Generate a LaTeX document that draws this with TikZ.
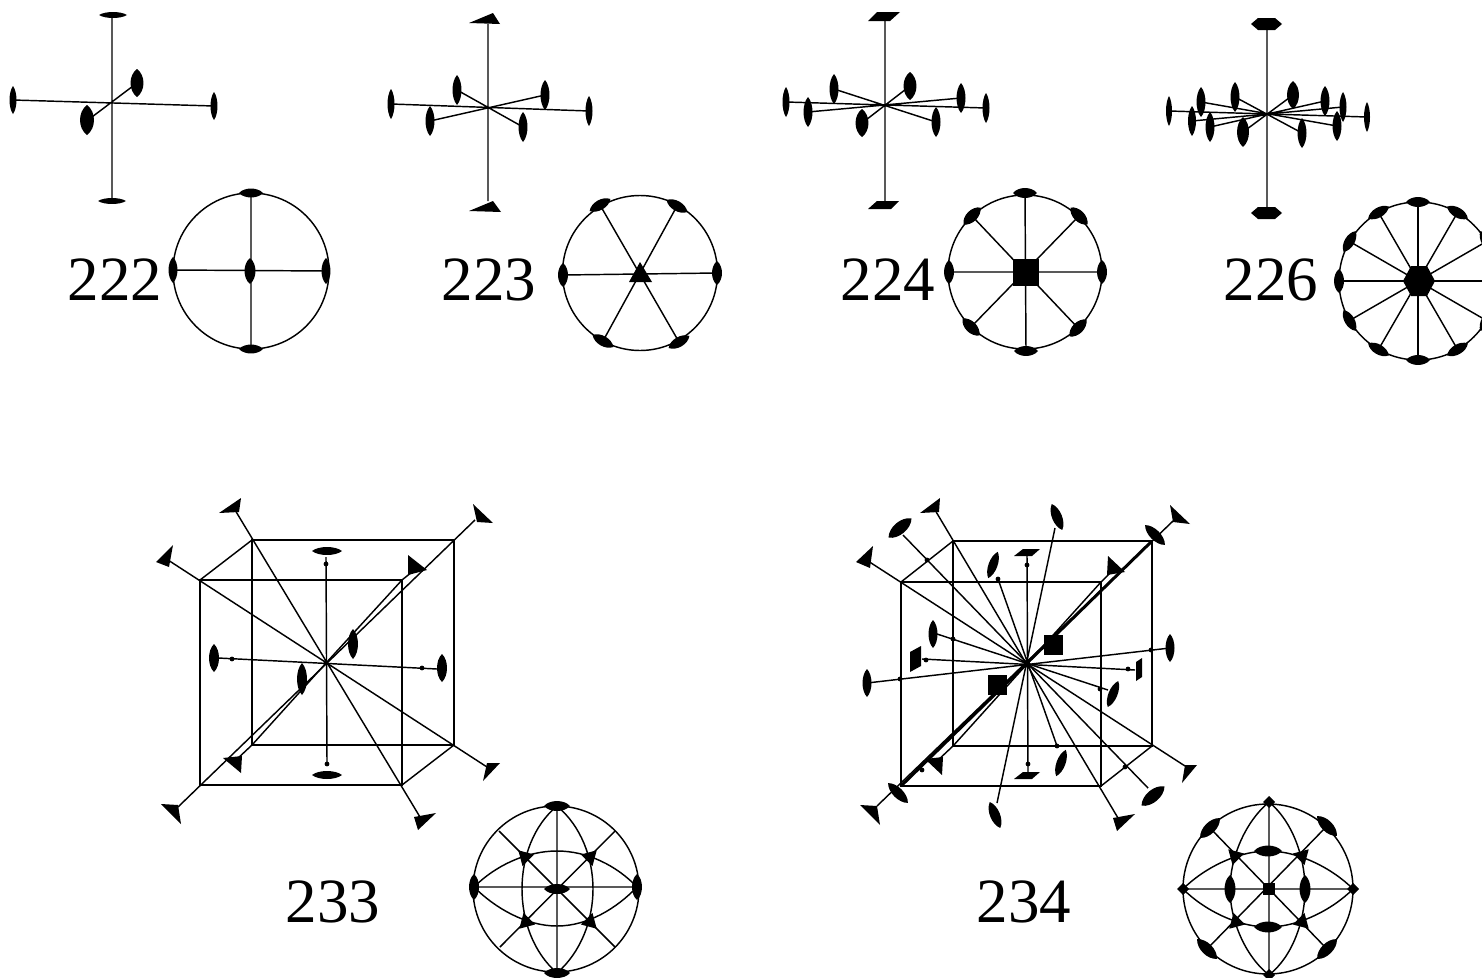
\documentclass[tikz,border=0pt]{standalone}
\usepackage{fontspec}
\setmainfont{Liberation Serif}
\newcommand{\lensA}[5]{\fill[shift={(#1,#2)},rotate={#3}] (-#4,0) .. controls (-#4*0.55,#5*1.33) and (#4*0.55,#5*1.33) .. (#4,0) .. controls (#4*0.55,-#5*1.33) and (-#4*0.55,-#5*1.33) .. cycle;}
\newcommand{\triR}[4]{\fill[shift={(#1,#2)},rotate={#3}] (#4,0) -- (-#4/2,#4*0.866) -- (-#4/2,-#4*0.866) -- cycle;}
\newcommand{\dotA}[2]{\fill (#1,#2) circle (2.4);}
\tikzset{
  lab/.style={inner sep=0pt,anchor=base west,font=\fontsize{63}{63}\selectfont},
  heavy line/.style={line width=3pt}
}
\begin{document}
\begin{tikzpicture}[x=1pt,y=-1pt,line width=1.45pt]
\useasboundingbox (0,0) rectangle (1482,977);
\clip (0,0) rectangle (1482,977);
\fill[white] (0,0) rectangle (1482,977);

% ---------- 222
\draw (112,15) -- (112,201) (13,100) -- (214,106) (88,120) -- (137,83);
\lensA{113}{15}{0}{14}{3}\lensA{112}{201}{0}{14}{3}
\lensA{13}{100}{90}{14}{3.5}\lensA{214}{106}{90}{14}{3.5}
\lensA{137}{83}{90}{14}{6.5}\lensA{87}{120}{90}{15}{7}
\node[lab] (l222) at (67,300) {222};
\draw (251,271) circle (78);
\draw (251,193) -- (251,349) (173,270) -- (326,271);
\lensA{251}{193}{0}{12}{4.5}\lensA{251}{349}{0}{12}{4.5}
\lensA{173}{270}{90}{13}{4.5}\lensA{326}{271}{90}{13}{4.5}\lensA{250}{271}{90}{13}{5.5}

% ---------- 223
\draw (488,24) -- (488,201) (391,104) -- (589,111) (457,90) -- (523,127) (545,95) -- (430,121);
\fill (469,23) -- (500,24) -- (493,13) -- cycle;
\fill (469,211) -- (501,212) -- (493,201) -- cycle;
\lensA{391}{104}{90}{15}{3.5}\lensA{589}{111}{90}{15}{3.5}
\lensA{457}{90}{90}{15}{4.5}\lensA{545}{95}{90}{15}{4.5}\lensA{430}{121}{90}{15}{4.5}\lensA{523}{127}{90}{15}{4.5}
\node[lab] (l223) at (441,300) {223};
\draw (640,273) circle (77.5);
\draw (563,275) -- (717,273) (600,205) -- (679,342) (677,206) -- (603,341);
\lensA{563}{275}{90}{12}{5}\lensA{717}{273}{90}{12}{5}
\lensA{600}{205}{30}{12}{5}\lensA{677}{206}{-30}{12}{5}
\lensA{603}{341}{-30}{12}{5}\lensA{679}{342}{30}{12}{5}
\fill (629,282) -- (652,282) -- (640,262) -- cycle;

% ---------- 224
\draw (885,21) -- (885,201) (786,102) -- (986,108) (834,89) -- (936,122) (961,98) -- (808,112) (910,86) -- (862,123);
\fill (868,21) -- (890,21) -- (900,12) -- (877,12) -- cycle;
\fill (868,209) -- (891,209) -- (899,201) -- (877,201) -- cycle;
\lensA{786}{102}{90}{15}{3.5}\lensA{986}{108}{90}{15}{3.5}
\lensA{834}{89}{90}{15}{4.5}\lensA{961}{98}{90}{15}{4.5}\lensA{808}{112}{90}{15}{4.5}\lensA{936}{122}{90}{15}{4.5}
\lensA{910}{86}{90}{14}{6.5}\lensA{862}{123}{90}{14}{6.5}
\node[lab] (l224) at (840,300) {224};
\draw (1025,272) circle (77);
\draw (1025,193) -- (1026,351) (949,272) -- (1102,272) (972,216) -- (1078,328) (1079,216) -- (971,327);
\lensA{1025}{193}{0}{12}{5}\lensA{1026}{351}{0}{12}{5}
\lensA{949}{272}{90}{12}{5}\lensA{1102}{272}{90}{12}{5}
\lensA{972}{216}{45}{12}{5.5}\lensA{1079}{216}{-45}{12}{5.5}
\lensA{971}{327}{-45}{12}{5.5}\lensA{1078}{328}{45}{12}{5.5}
\fill (1013,259) rectangle (1039,286);

% ---------- 226
\draw (1267,30) -- (1267,207) (1169,111) -- (1367,117);
\draw (1192,121) -- (1343,107) (1201,102) -- (1337,126) (1210,127) -- (1325,101) (1235,97) -- (1302,133) (1293,95) -- (1243,132);
\fill (1251,24) -- (1258,18) -- (1275,18) -- (1282,24) -- (1275,30) -- (1258,30) -- cycle;
\fill (1251,213) -- (1258,207) -- (1275,207) -- (1282,213) -- (1275,219) -- (1258,219) -- cycle;
\lensA{1169}{111}{90}{15}{3}\lensA{1367}{117}{90}{15}{3}
\lensA{1192}{121}{90}{15}{4}\lensA{1343}{107}{90}{15}{3.5}
\lensA{1201}{102}{90}{15}{4.5}\lensA{1337}{126}{90}{15}{4.5}
\lensA{1210}{127}{90}{15}{4.5}\lensA{1325}{101}{90}{15}{4.5}
\lensA{1235}{97}{90}{15}{4.5}\lensA{1302}{133}{90}{15}{4.5}
\lensA{1293}{95}{90}{14}{6}\lensA{1243}{132}{90}{15}{6}
\node[lab] (l226) at (1223,300) {226};
\draw (1418,281) circle (79);
\foreach \a in {0,30,...,330} {
  \pgfmathsetmacro\px{1418+79*cos(\a)}
  \pgfmathsetmacro\py{281-79*sin(\a)}
  \draw (1418,281) -- (\px,\py);
  \lensA{\px}{\py}{\a+90}{12}{5}
}
\fill (1403,281) -- (1411,266) -- (1427,266) -- (1435,281) -- (1427,296) -- (1411,296) -- cycle;

% ---------- 233 cube
\draw (200,580) rectangle (402,785) (252,540) rectangle (454,745);
\draw (200,580) -- (252,540) (402,785) -- (454,745);
\draw (168,560) -- (487,767) (235,510) -- (420,817) (475,520) -- (178,807);
\draw (402,580) -- (417,568) (402,580) -- (326,663) (326,663) -- (252,745) -- (236,760);
\draw (326,557) -- (327,763) (218,658) -- (437,669);
\dotA{326}{564}\dotA{327}{764}\dotA{232}{659}\dotA{422}{668}\dotA{326}{663}
\fill (219,513) -- (241,498) -- (239,512) -- cycle;
\fill (156,562) -- (173,545) -- (169,567) -- cycle;
\fill (473,504) -- (493,523) -- (477,522) -- cycle;
\fill (500,763) -- (483,781) -- (487,763) -- cycle;
\fill (414,817) -- (436,813) -- (418,830) -- cycle;
\fill (161,804) -- (181,824) -- (178,805) -- cycle;
\fill (408,555) -- (427,570) -- (408,575) -- cycle;
\fill (223,758) -- (242,756) -- (241,773) -- cycle;
\lensA{327}{551}{0}{15}{4}\lensA{327}{775}{0}{15}{4}
\lensA{214}{658}{90}{14}{5}\lensA{442}{668}{90}{14}{5}
\lensA{353}{644}{90}{15}{5}\lensA{302}{679}{90}{16}{5}
\node[lab] (l233) at (285,922) {233};

% ---------- 233 stereogram
\draw (556,889) circle (83);
\draw (557,806) -- (557,973) (474,887) -- (637,887) (499,831) -- (615,947) (615,831) -- (500,947);
\draw (557,806) .. controls (533,826) and (522,858) .. (522,889) .. controls (522,920) and (533,952) .. (557,973);
\draw (557,806) .. controls (581,826) and (593,858) .. (593,889) .. controls (593,920) and (581,952) .. (557,973);
\draw (474,887) .. controls (495,866) and (526,851) .. (557,851) .. controls (588,851) and (617,866) .. (637,887);
\draw (474,887) .. controls (495,908) and (526,926) .. (557,926) .. controls (588,926) and (617,908) .. (637,887);
\lensA{557}{806}{0}{13}{5}\lensA{557}{973}{0}{13}{5}
\lensA{474}{887}{90}{13}{5}\lensA{637}{887}{90}{13}{5}\lensA{557}{889}{0}{13}{5}
\triR{525}{857}{135}{9.5}\triR{590}{857}{45}{9.5}\triR{526}{922}{-135}{9.5}\triR{590}{922}{-45}{9.5}

% ---------- 234 cube
\draw (901,582) rectangle (1101,786) (953,541) rectangle (1152,746);
\draw (901,582) -- (953,541) (1101,786) -- (1152,746);
\draw (868,561) -- (1185,766) (935,510) -- (1118,818) (1173,521) -- (877,806);
\draw[heavy line] (1152,541) -- (901,786);
\draw (1101,582) -- (1115,568) (1101,582) -- (1027,664) -- (953,746) -- (936,762);
\draw (1027,556) -- (1028,772) (922,659) -- (1135,670);
\draw (867,683) -- (1170,648);
\draw (903,535) -- (1148,788) (1055,528) -- (997,803) (998,579) -- (1057,746) (937,634) -- (1108,690);
\dotA{1027}{565}\dotA{1028}{764}\dotA{926}{660}\dotA{1128}{669}\dotA{900}{679}\dotA{1151}{650}
\dotA{927}{560}\dotA{1125}{767}\dotA{953}{639}\dotA{1100}{689}\dotA{998}{579}\dotA{1057}{746}\dotA{922}{770}
\fill (1027,664) circle (3.5);
\fill (920,513) -- (940,498) -- (939,512) -- cycle;
\fill (856,562) -- (873,546) -- (870,568) -- cycle;
\fill (1170,505) -- (1190,524) -- (1173,522) -- cycle;
\fill (1197,765) -- (1182,783) -- (1185,765) -- cycle;
\fill (1113,818) -- (1135,814) -- (1117,831) -- cycle;
\fill (860,805) -- (880,825) -- (877,806) -- cycle;
\fill (1108,556) -- (1125,572) -- (1107,575) -- cycle;
\fill (925,759) -- (943,757) -- (942,775) -- cycle;
\fill (910,652) -- (921,646) -- (921,666) -- (910,672) -- cycle;
\fill (1136,662) -- (1142,658) -- (1142,677) -- (1136,681) -- cycle;
\fill (1014,556) -- (1032,556) -- (1040,549) -- (1023,549) -- cycle;
\fill (1014,779) -- (1032,779) -- (1040,772) -- (1023,772) -- cycle;
\fill (1044,635) rectangle (1063,655);
\fill (988,675) rectangle (1007,695);
\lensA{900}{528}{40}{15}{6}\lensA{1153}{796}{40}{15}{6}
\lensA{1057}{517}{-68}{14}{5}\lensA{995}{815}{-68}{14}{5}
\lensA{993}{565}{70}{14}{4.5}\lensA{1061}{763}{70}{14}{4.5}
\lensA{933}{634}{90}{14}{4.5}\lensA{1113}{694}{68}{14}{4.5}
\lensA{867}{683}{90}{14}{4.5}\lensA{1170}{648}{90}{14}{4.5}
\lensA{1155}{535}{-45}{14}{5}\lensA{898}{793}{-45}{14}{5}
\node[lab] (l234) at (976,922) {234};

% ---------- 234 stereogram
\draw (1268,889) circle (85);
\draw (1269,802) -- (1269,975) (1183,889) -- (1353,889) (1210,828) -- (1327,949) (1327,826) -- (1207,949);
\draw (1269,802) .. controls (1245,822) and (1230,858) .. (1230,889) .. controls (1230,920) and (1245,956) .. (1269,975);
\draw (1269,802) .. controls (1293,822) and (1305,858) .. (1305,889) .. controls (1305,920) and (1293,956) .. (1269,975);
\draw (1183,889) .. controls (1204,868) and (1238,851) .. (1268,851) .. controls (1298,851) and (1332,868) .. (1353,889);
\draw (1183,889) .. controls (1204,910) and (1238,927) .. (1268,927) .. controls (1298,927) and (1332,910) .. (1353,889);
\foreach \cx/\cy in {1269/802,1269/975,1183/889,1353/889} {
  \fill (\cx-6,\cy) -- (\cx,\cy-6) -- (\cx+6,\cy) -- (\cx,\cy+6) -- cycle;
}
\fill (1263,883) rectangle (1275,895);
\lensA{1210}{828}{45}{14}{5.5}\lensA{1327}{826}{-45}{14}{5.5}
\lensA{1207}{949}{-45}{14}{5.5}\lensA{1327}{949}{45}{14}{5.5}
\lensA{1268}{851}{0}{14}{5.5}\lensA{1268}{927}{0}{14}{5.5}
\lensA{1230}{889}{90}{14}{5.5}\lensA{1305}{889}{90}{14}{5.5}
\triR{1235}{856}{135}{9.5}\triR{1302}{856}{45}{9.5}\triR{1236}{922}{-135}{9.5}\triR{1302}{922}{-45}{9.5}
\end{tikzpicture}
\end{document}
